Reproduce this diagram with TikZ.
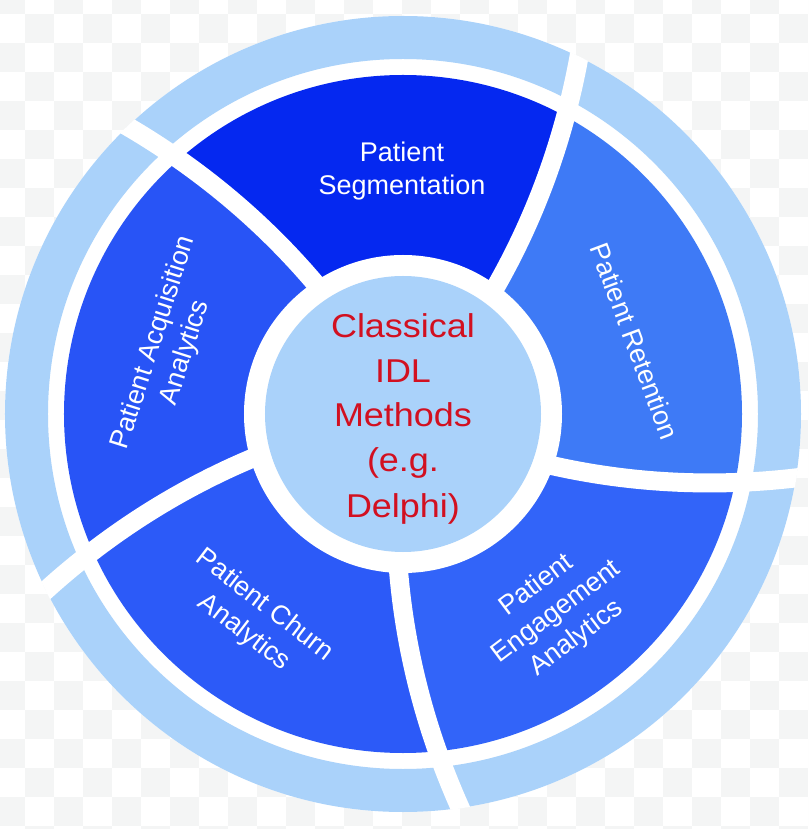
\documentclass[tikz,border=0pt]{standalone}
\usepackage{fontspec}
\setmainfont{Liberation Sans}
\usepackage{graphicx}
\definecolor{ringblue}{RGB}{170,210,250}
\definecolor{segc}{RGB}{5,40,240}
\definecolor{acqc}{RGB}{40,84,246}
\definecolor{churnc}{RGB}{44,90,248}
\definecolor{engc}{RGB}{50,100,249}
\definecolor{retc}{RGB}{62,122,246}
\definecolor{redtext}{RGB}{210,16,32}
\definecolor{chk}{RGB}{244,245,245}
\tikzset{
  lbl/.style={text=white, font=\fontsize{27}{33}\selectfont, text height=19.5pt, text depth=0pt, inner sep=0pt, anchor=center},
  seglbl/.style={text=white, font=\fontsize{27}{33}\selectfont, inner sep=0pt, anchor=base},
  ctr/.style={text=redtext, font=\fontsize{33}{40}\selectfont, inner sep=0pt, anchor=base},
  gapline/.style={draw=white, line width=19pt},
}
\begin{document}
\begin{tikzpicture}[x=1pt,y=1pt]
\useasboundingbox (-403,-415) rectangle (405,414);
% checkerboard background
\begin{scope}
  \clip (-403,-415) rectangle (405,414);
  \fill[white] (-403,-415) rectangle (405,414);
  \foreach \i in {-1,...,27}{
    \foreach \j in {-1,...,28}{
      \pgfmathtruncatemacro\s{mod(\i+\j+100,2)}
      \ifnum\s=0
        \fill[chk] ({-378+29*\i},{400-29*\j}) rectangle ++(29,-29);
      \fi
    }
  }
\end{scope}
% white disc and outer ring
\fill[white] (0,0) circle (398);
\fill[ringblue, even odd rule] (0,0) circle (398) (0,0) circle (355);
% segments
\begin{scope}
  \clip (0,0) circle (339);
  \foreach \ta/\tb/\col in {-19/54/retc, 54/124/segc, 124/196.5/acqc, 196.5/268.5/churnc, 268.5/341/engc}{
    \fill[\col] plot[domain=140:430, samples=30] ({\ta+0.041*(\x-160)}:\x)
      -- plot[domain=140:430, samples=30] ({\tb+0.041*(570-\x-160)}:{570-\x}) -- cycle;
  }
\end{scope}
\fill[white] (0,0) circle (159);
% dividers
\begin{scope}
  \clip (0,0) circle (398.5);
  \foreach \t in {54,124,196.5,268.5,341}{
    \draw[gapline] plot[domain=120:440, samples=40] ({\t+0.041*(\x-160)}:\x);
  }
\end{scope}
% inner circle
\fill[ringblue] (0,0) circle (138);
% center text
\node[ctr] (c1) at (0,76) {\scalebox{1.09}[1]{Classical}};
\node[ctr] (c2) at (0,31) {\scalebox{1.09}[1]{IDL}};
\node[ctr] (c3) at (0,-13) {\scalebox{1.09}[1]{Methods}};
\node[ctr] (c4) at (0,-58) {\scalebox{1.09}[1]{(e.g.}};
\node[ctr] (c5) at (0,-103) {\scalebox{1.09}[1]{Delphi)}};
% segmentation
\node[seglbl] (seg1) at (-1,252) {Patient};
\node[seglbl] (seg2) at (-1,219) {Segmentation};
% retention
\node[lbl, rotate=-69.5] (ret1) at (232,73) {Patient Retention};
% acquisition
\begin{scope}[shift={(-236,67)}, rotate=72.4, transform shape]
  \node[lbl] (acq1) at (0,16.5) {Patient Acquisition};
  \node[lbl] (acq2) at (0,-16.5) {Analytics};
\end{scope}
% churn
\begin{scope}[shift={(-147,-203)}, rotate=-37.5, transform shape]
  \node[lbl] (chu1) at (0,17) {Patient Churn};
  \node[lbl] (chu2) at (0,-17) {Analytics};
\end{scope}
% engagement
\begin{scope}[shift={(152,-196)}, rotate=37, transform shape]
  \node[lbl] (eng1) at (0,33) {Patient};
  \node[lbl] (eng2) at (0,0) {Engagement};
  \node[lbl] (eng3) at (0,-33) {Analytics};
\end{scope}
\end{tikzpicture}
\end{document}
